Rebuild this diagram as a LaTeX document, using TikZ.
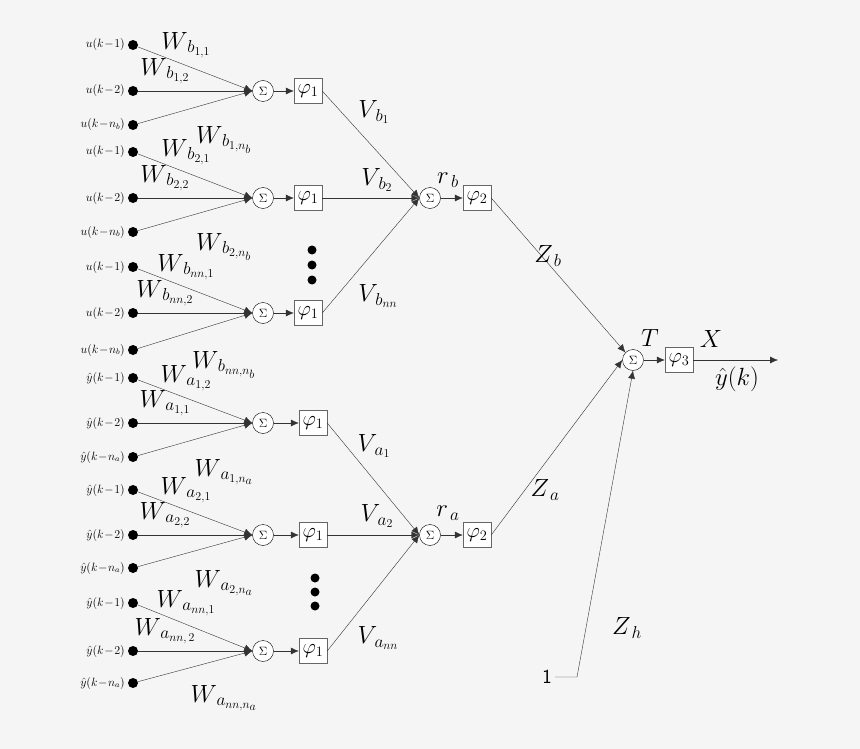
\documentclass[tikz,border=0pt]{standalone}
\usepackage{amsmath}
\usetikzlibrary{arrows.meta,positioning}
\definecolor{bgray}{HTML}{F5F5F5}

\begin{document}
\begin{tikzpicture}[
    x=1pt, y=-1pt,
    >={Latex[length=8pt,width=7pt]},
    inp/.style={circle, fill=black, inner sep=0pt, minimum size=10pt},
    sum/.style={circle, draw=black, thin, fill=white, inner sep=0pt, minimum size=21pt, font=\fontsize{13}{14}\selectfont},
    act/.style={rectangle, draw=black!60, fill=white, inner sep=1pt, minimum width=28pt, minimum height=25pt, font=\fontsize{22}{24}\selectfont},
    lbl/.style={font=\fontsize{12}{13}\selectfont, anchor=east, inner sep=1pt},
    wt/.style={font=\fontsize{26}{28}\selectfont},
    link/.style={draw=black!80, thin}
  ]

\useasboundingbox[fill=bgray] (0,0) rectangle (860,749);

% // hidden layer groups
\foreach \g/\t/\m/\b/\px/\vv/\lt/\lm/\lb in {
  b1/45/91/125/308/y/{b_{1,1}}/{b_{1,2}}/{b_{1,n_b}},
  b2/152/198/232/308/y/{b_{2,1}}/{b_{2,2}}/{b_{2,n_b}},
  b3/267/313/350/308/y/{b_{nn,1}}/{b_{nn,2}}/{b_{nn,n_b}},
  a1/378/423/457/313/n/{a_{1,2}}/{a_{1,1}}/{a_{1,n_a}},
  a2/490/535/568/313/n/{a_{2,1}}/{a_{2,2}}/{a_{2,n_a}},
  a3/603/651/683/313/n/{a_{nn,1}}/{a_{nn,\,2}}/{a_{nn,n_a}}}{
  \node [inp] (\g i1) at (133,\t) {};
  \node [inp] (\g i2) at (133,\m) {};
  \node [inp] (\g i3) at (133,\b) {};
  \if\vv y
    \node [lbl] at (126,\t) {$u(k\!-\!1)$};
    \node [lbl] at (126,\m) {$u(k\!-\!2)$};
    \node [lbl] at (126,\b) {$u(k\!-\!n_b)$};
  \else
    \node [lbl] at (126,\t) {$\hat y(k\!-\!1)$};
    \node [lbl] at (126,\m) {$\hat y(k\!-\!2)$};
    \node [lbl] at (126,\b) {$\hat y(k\!-\!n_a)$};
  \fi
  \node [sum] (\g s) at (263,\m) {$\Sigma$};
  \node [act] (\g p) at (\px,\m) {$\varphi_1$};
  \draw [link, ->] (\g i1) -- (\g s.west);
  \draw [link, ->] (\g i2) -- (\g s.west);
  \draw [link, ->] (\g i3) -- (\g s.west);
  \draw [link, ->] (\g s) -- (\g p);
  \node [wt] at (186,\t) {$W_{\,\lt}$};
  \node [wt] at (165,\m-20) {$W_{\,\lm}$};
  \node [wt] at (224,\b+15) {$W_{\,\lb}$};
}

% // dots
\foreach \y in {250,265,280} \fill (312,\y) circle (4.5pt);
\foreach \y in {578,592,606} \fill (315,\y) circle (4.5pt);

% // second layer
\node [sum] (rbs) at (430,198) {$\Sigma$};
\node [act] (rbp) at (477,198) {$\varphi_2$};
\node [sum] (ras) at (430,535) {$\Sigma$};
\node [act] (rap) at (477,535) {$\varphi_2$};
\foreach \g in {b1,b2,b3} \draw [link, ->] (\g p.east) -- (rbs.west);
\foreach \g in {a1,a2,a3} \draw [link, ->] (\g p.east) -- (ras.west);
\draw [link, ->] (rbs) -- (rbp);
\draw [link, ->] (ras) -- (rap);

\node [wt] at (374,112) {$V_{\,b_1}$};
\node [wt] at (377,180) {$V_{\,b_2}$};
\node [wt] at (378,296) {$V_{\,b_{nn}}$};
\node [wt] at (374,446) {$V_{\,a_1}$};
\node [wt] at (377,516) {$V_{\,a_2}$};
\node [wt] at (378,638) {$V_{\,a_{nn}}$};
\node [wt] at (448,180) {$r_{\,b}$};
\node [wt] at (448,513) {$r_{\,a}$};

% // output layer
\node [sum] (ts) at (633,360) {$\Sigma$};
\node [act] (tp) at (679,360) {$\varphi_3$};
\coordinate (yout) at (778,360);
\node [font=\sffamily\fontsize{20}{22}\selectfont] (one) at (547,677) {1};
\coordinate (bend) at (577,677);
\draw [link, ->] (rbp.east) -- (ts.north west);
\draw [link, ->] (rap.east) -- (ts.west);
\draw [link, ->] (one.east) -- (bend) -- (ts.south);
\draw [link, ->] (ts) -- (tp);
\draw [link, ->] (tp) -- (yout);

\node [wt] at (548,256) {$Z_{\,b}$};
\node [wt] at (545,490) {$Z_{\,a}$};
\node [wt] at (627,628) {$Z_{\,h}$};
\node [wt] at (650,338) {$T$};
\node [wt] at (711,339) {$X$};
\node [wt] at (737,379) {$\hat y(k)$};

\end{tikzpicture}
\end{document}
